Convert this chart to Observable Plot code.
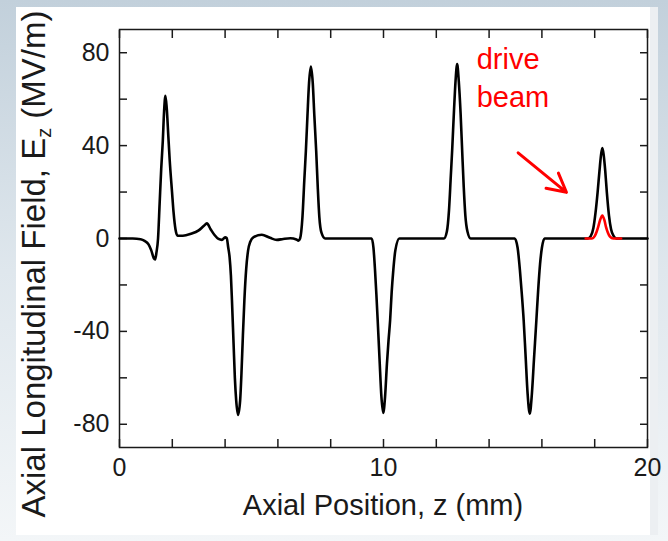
<!DOCTYPE html>
<html>
<head>
<meta charset="utf-8">
<script src="https://cdn.jsdelivr.net/npm/d3@7"></script>
<script src="https://cdn.jsdelivr.net/npm/@observablehq/plot@0.6"></script>
<style>
  html, body { margin: 0; padding: 0; }
  body {
    width: 668px; height: 541px; overflow: hidden; position: relative;
    background: linear-gradient(to bottom, #c2d0db 0%, #dfe7ed 50%, #f3f6f8 100%);
  }
  #panel { position: absolute; left: 16px; top: 7px; width: 634px; height: 528px; background: #fff; }
  #rightstrip { position: absolute; left: 650px; top: 7px; width: 8px; height: 528px; background: #eceff2; }
  #chart { position: absolute; left: 0; top: 0; }
</style>
</head>
<body>
<div id="panel"></div>
<div id="rightstrip"></div>
<div id="chart"></div>
<script>
// Axial position z (mm) and field Ez (MV/m), black curve (total field)
const zTotal = [0, 0.5, 0.8, 0.95, 1.1, 1.2, 1.3, 1.35, 1.4, 1.46, 1.52, 1.58, 1.64, 1.69, 1.74, 1.79, 1.85, 1.9, 1.99, 2.05, 2.12, 2.2, 2.4, 2.7, 3.0, 3.2, 3.31, 3.45, 3.6, 3.75, 3.88, 4.0, 4.06, 4.12, 4.17, 4.22, 4.26, 4.32, 4.37, 4.42, 4.49, 4.57, 4.62, 4.67, 4.73, 4.8, 4.87, 4.95, 5.08, 5.39, 5.7, 5.96, 6.2, 6.47, 6.7, 6.78, 6.84, 6.93, 7.0, 7.06, 7.12, 7.18, 7.25, 7.32, 7.38, 7.45, 7.51, 7.57, 7.65, 7.79, 9.55, 9.62, 9.68, 9.73, 9.78, 9.85, 9.92, 9.99, 10.06, 10.13, 10.19, 10.25, 10.31, 10.37, 10.45, 10.6, 12.29, 12.4, 12.48, 12.55, 12.6, 12.67, 12.73, 12.79, 12.85, 12.92, 12.98, 13.04, 13.1, 13.18, 13.3, 14.97, 15.08, 15.17, 15.24, 15.31, 15.38, 15.46, 15.54, 15.62, 15.7, 15.79, 15.86, 15.93, 16.0, 16.1, 17.74, 17.85, 17.95, 18.03, 18.11, 18.18, 18.24, 18.29, 18.34, 18.4, 18.46, 18.54, 18.62, 18.72, 18.82, 20];
const ezTotal = [0, 0, -0.3, -1, -2.5, -5, -8.5, -9, -6, 0, 15, 30, 42, 55, 61.5, 56, 44, 34, 20, 11, 4, 1.2, 1.2, 2, 3.5, 5.5, 6.5, 4, 1.5, -0.2, -0.6, 0.5, 0.2, -4, -8, -16, -26.7, -45, -60, -69.7, -76, -69.7, -58, -43, -26.7, -13, -5.2, -1.5, 0.6, 1.6, 0.3, -0.6, -0.2, 0.1, -0.4, -0.9, 0, 9.2, 25, 37.8, 53, 67, 74, 67, 53, 37.8, 22, 9.2, 2.5, 0, 0, -4, -13.8, -24, -35.3, -52, -68, -75.1, -68, -54, -44, -35.3, -23, -13.8, -5, 0, 0, 3, 12, 27, 37.8, 55, 68, 75.1, 68, 54, 37.8, 22, 10, 3, 0, 0, -4, -14, -24, -35.3, -50, -67, -75.4, -67, -52, -35.3, -22, -11, -4, 0, 0, 1, 4.5, 11, 19.9, 29, 36, 39, 36, 29, 19.9, 10, 4, 1, 0, 0];

// Red curve: drive beam field
const zDrive = [17.66, 17.9, 18.0, 18.07, 18.13, 18.2, 18.29, 18.37, 18.43, 18.5, 18.58, 18.7, 19.0];
const ezDrive = [0, 0, 1, 2.8, 4.9, 7.8, 9.9, 7.8, 4.9, 2.5, 0.8, 0, 0];

// Tick values and labels
const xTickValues = [0, 2, 4, 6, 8, 10, 12, 14, 16, 18, 20];
const xTickLabels = [0, 10, 20];
const yTickValues = [-80, -60, -40, -20, 0, 20, 40, 60, 80];
const yTickLabels = [-80, -40, 0, 40, 80];

// Annotation
const annotationLines = ["drive", "beam"];
const arrowFrom = {z: 15.1, ez: 36.9};
const arrowTo = {z: 16.93, ez: 19.9};
const textAt = {z: 13.53, ez: [73.1, 56.6]};

const totalData = zTotal.map((z, i) => ({z, ez: ezTotal[i]}));
const driveData = zDrive.map((z, i) => ({z, ez: ezDrive[i]}));
const labelData = annotationLines.map((t, i) => ({t, z: textAt.z, ez: textAt.ez[i]}));

const font = "'Liberation Sans', Arial, Helvetica, sans-serif";
const fmt = d => String(d);

const chart = Plot.plot({
  width: 668,
  height: 541,
  marginLeft: 119,
  marginRight: 21,
  marginTop: 29,
  marginBottom: 94,
  style: {background: "transparent", fontFamily: font, fontSize: "25px", color: "#1a1a1a", overflow: "visible"},
  x: {domain: [0, 20]},
  y: {domain: [-90, 90]},
  marks: [
    Plot.axisX(xTickLabels, {anchor: "bottom", tickSize: 0, tickPadding: 11, tickFormat: fmt, label: null, fontSize: 25}),
    Plot.axisX(xTickValues, {anchor: "bottom", tickSize: -8, text: null, label: null, strokeWidth: 1.5}),
    Plot.axisX(xTickValues, {anchor: "top", tickSize: -8, text: null, label: null, strokeWidth: 1.5}),
    Plot.axisY(yTickLabels, {anchor: "left", tickSize: 0, tickPadding: 10, tickFormat: fmt, label: null, fontSize: 25}),
    Plot.axisY(yTickValues, {anchor: "left", tickSize: -8, text: null, label: null, strokeWidth: 1.5}),
    Plot.axisY(yTickValues, {anchor: "right", tickSize: -8, text: null, label: null, strokeWidth: 1.5}),
    Plot.frame({stroke: "#1a1a1a", strokeWidth: 1.5}),
    Plot.line(totalData, {x: "z", y: "ez", stroke: "#000", strokeWidth: 2.6, curve: "monotone-x"}),
    Plot.line(driveData, {x: "z", y: "ez", stroke: "#ff0000", strokeWidth: 2.6, curve: "monotone-x"}),
    Plot.arrow([{}], {x1: () => arrowFrom.z, y1: () => arrowFrom.ez, x2: () => arrowTo.z, y2: () => arrowTo.ez, stroke: "#ff0000", strokeWidth: 3, headLength: 20, headAngle: 56}),
    Plot.text(labelData, {x: "z", y: "ez", text: "t", fill: "#ff0000", fontSize: 29, textAnchor: "start", lineAnchor: "bottom", fontFamily: font})
  ]
});
document.getElementById("chart").appendChild(chart);

// Axis titles (with subscript)
const svg = d3.select(chart);
svg.append("text")
  .attr("x", 383).attr("y", 515)
  .attr("text-anchor", "middle")
  .attr("font-family", font).attr("font-size", 29).attr("fill", "#1a1a1a")
  .text("Axial Position, z (mm)");
const yl = svg.append("text")
  .attr("transform", "translate(45,264) rotate(-90)")
  .attr("text-anchor", "middle")
  .attr("font-family", font).attr("font-size", 33).attr("fill", "#1a1a1a");
yl.append("tspan").text("Axial Longitudinal Field, E");
yl.append("tspan").attr("font-size", 20).attr("dy", 6).text("z");
yl.append("tspan").attr("dy", -6).text(" (MV/m)");
</script>
</body>
</html>
